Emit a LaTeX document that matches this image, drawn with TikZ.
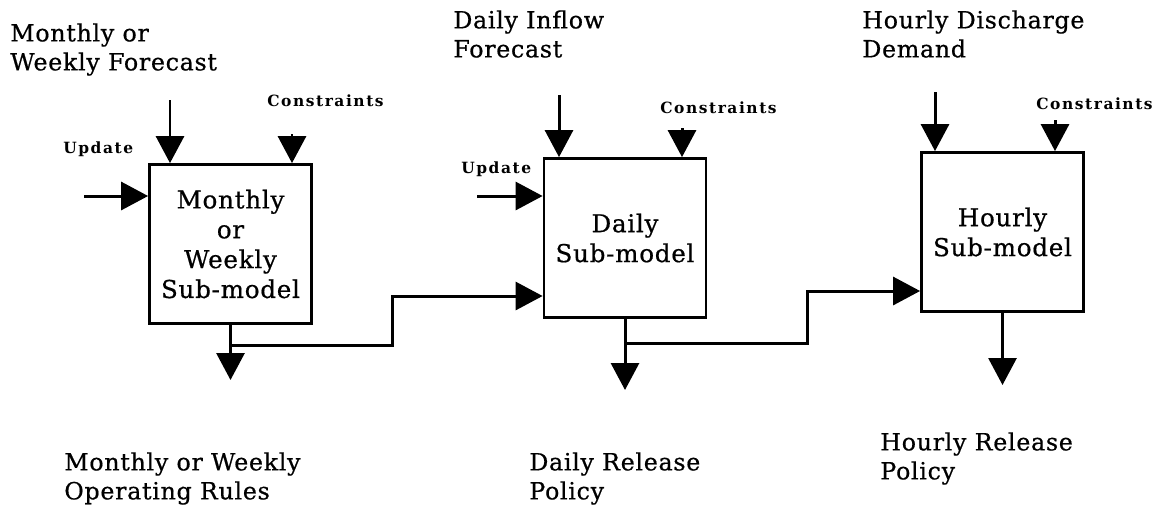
\documentclass[tikz,border=0pt]{standalone}
\usepackage{fontspec}
\setmainfont{DejaVu Serif}[LetterSpace=3,FakeBold=0.6]
\newfontfamily\tagfont{DejaVu Serif}[LetterSpace=10]
\usetikzlibrary{arrows.meta}
\begin{document}
\begin{tikzpicture}[x=0.02cm,y=-0.02cm,
  submodel/.style={draw,line width=1.6pt,minimum width=3.24cm,minimum height=3.18cm,
    inner sep=0pt,align=center,font=\fontsize{14}{17}\selectfont},
  lbl/.style={anchor=north west,align=left,inner sep=0pt,font=\fontsize{13.5}{16.5}\selectfont},
  small/.style={anchor=north west,inner sep=0pt,font=\tagfont\bfseries\fontsize{8.8}{10}\selectfont},
  flow/.style={line width=1.7pt,-{Triangle[width=0.56cm,length=0.54cm]}}]

\useasboundingbox (0,0) rectangle (1158,528);

% Sub-models:
\node[submodel] (mw) at (230.5,244) {Monthly\\or\\Weekly\\Sub-model};
\node[submodel] (dy) at (625,238) {Daily\\Sub-model};
\node[submodel] (hr) at (1002.5,232) {Hourly\\Sub-model};

% Labels on top:
\node[lbl] (mw-fc-lbl) at (10,23) {Monthly or\\Weekly Forecast};
\node[small] (mw-c-lbl) at (267,94) {Constraints};
\node[small] (mw-u-lbl) at (63,141) {Update};
\node[lbl] (dy-fc-lbl) at (453,10) {Daily Inflow\\Forecast};
\node[small] (dy-c-lbl) at (660,101) {Constraints};
\node[small] (dy-u-lbl) at (461,161) {Update};
\node[lbl] (hr-fc-lbl) at (862,10) {Hourly Discharge\\Demand};
\node[small] (hr-c-lbl) at (1036,97) {Constraints};

% Labels at the bottom:
\node[lbl] (mw-out-lbl) at (64,452) {Monthly or Weekly\\Operating Rules};
\node[lbl] (dy-out-lbl) at (529,452) {Daily Release\\Policy};
\node[lbl] (hr-out-lbl) at (880,432) {Hourly Release\\Policy};

% Inputs:
\coordinate (mw-fc) at (170,100);
\coordinate (mw-c) at (292,134);
\coordinate (mw-u) at (84,196);
\draw[flow] (mw-fc) -- (mw-fc |- mw.north);
\draw[flow] (mw-c) -- (mw-c |- mw.north);
\draw[flow] (mw-u) -- (mw-u -| mw.west);

\coordinate (dy-fc) at (559,95);
\coordinate (dy-c) at (682,128);
\coordinate (dy-u) at (477,196);
\draw[flow] (dy-fc) -- (dy-fc |- dy.north);
\draw[flow] (dy-c) -- (dy-c |- dy.north);
\draw[flow] (dy-u) -- (dy-u -| dy.west);

\coordinate (hr-fc) at (935,92);
\coordinate (hr-c) at (1055,120);
\draw[flow] (hr-fc) -- (hr-fc |- hr.north);
\draw[flow] (hr-c) -- (hr-c |- hr.north);

% Outputs:
\coordinate (mw-out) at (230.5,380);
\coordinate (dy-out) at (625,390);
\coordinate (hr-out) at (1002.5,385);
\draw[flow] (mw.south) -- (mw-out);
\draw[flow] (dy.south) -- (dy-out);
\draw[flow] (hr.south) -- (hr-out);

% Links between sub-models:
\coordinate (mw-j) at (230.5,345);
\coordinate (mw-k) at (392,296);
\draw[flow] (mw-j) -| (mw-k) -- (mw-k -| dy.west);
\coordinate (dy-j) at (625,343);
\coordinate (dy-k) at (807,291);
\draw[flow] (dy-j) -| (dy-k) -- (dy-k -| hr.west);

\end{tikzpicture}
\end{document}
